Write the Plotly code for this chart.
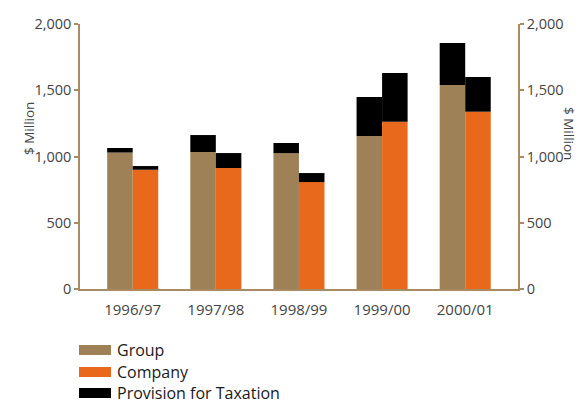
import plotly.graph_objects as go

# Fiscal years and values in $ million
years = ["1996/97", "1997/98", "1998/99", "1999/00", "2000/01"]
group_profit = [1030, 1034, 1026, 1155, 1540]
company_profit = [900, 913, 807, 1263, 1338]
group_tax = [34, 128, 76, 294, 317]
company_tax = [28, 113, 68, 367, 262]

legend_labels = ["Group", "Company", "Provision for Taxation"]

C_GROUP = "#9E8157"
C_COMPANY = "#E8691C"
C_TAX = "#000000"
C_AXIS = "#A88B63"
C_TEXT = "#444444"
FONT = "Open Sans, Lato, sans-serif"

# plot-area geometry in pixels, used to place titles and legend in paper units
PX_L, PX_R, PX_T, PX_B = 80, 518, 24, 289
PW, PH = PX_R - PX_L, PX_B - PX_T


def px_x(x):
    return (x - PX_L) / PW


def px_y(y):
    return 1 - (y - PX_T) / PH


fig = go.Figure()

fig.add_trace(go.Bar(x=years, y=group_profit, marker_color=C_GROUP,
                     offsetgroup="g", name=legend_labels[0]))
fig.add_trace(go.Bar(x=years, y=group_tax, base=group_profit, marker_color=C_TAX,
                     offsetgroup="g", name=legend_labels[2]))
fig.add_trace(go.Bar(x=years, y=company_profit, marker_color=C_COMPANY,
                     offsetgroup="c", name=legend_labels[1]))
fig.add_trace(go.Bar(x=years, y=company_tax, base=company_profit, marker_color=C_TAX,
                     offsetgroup="c", name=legend_labels[2]))
# empty trace so the right-hand axis is rendered
fig.add_trace(go.Scatter(x=[years[0]], y=[None], yaxis="y2", mode="markers",
                         showlegend=False, hoverinfo="skip"))

fig.update_traces(marker_line_width=0, selector=dict(type="bar"))

axis_common = dict(
    range=[0, 2000], tickvals=[0, 500, 1000, 1500, 2000],
    ticktext=["0", "500", "1,000", "1,500", "2,000"],
    showline=True, linecolor=C_AXIS, linewidth=1.5,
    ticks="outside", ticklen=4, tickcolor=C_AXIS, tickwidth=1.5,
    showgrid=False, zeroline=False,
    tickfont=dict(family=FONT, size=14.5, color=C_TEXT),
)

fig.update_layout(
    width=587, height=404,
    margin=dict(l=PX_L, r=587 - PX_R, t=PX_T, b=404 - PX_B),
    plot_bgcolor="white", paper_bgcolor="white",
    barmode="group", bargap=0.386, bargroupgap=0,
    showlegend=False,
    xaxis=dict(range=[-0.634, 4.635], showline=True, linecolor=C_AXIS, linewidth=1.5,
               ticks="", showgrid=False, ticklabelstandoff=6,
               tickfont=dict(family=FONT, size=15, color=C_TEXT)),
    yaxis=dict(**axis_common),
    yaxis2=dict(**axis_common, overlaying="y", side="right", anchor="x"),
)

# axis titles
fig.add_annotation(text="$ Million", x=px_x(18), y=px_y(129), xref="paper", yref="paper",
                   showarrow=False, textangle=-90,
                   font=dict(family=FONT, size=13.5, color=C_TEXT))
fig.add_annotation(text="$ Million", x=px_x(580), y=px_y(133), xref="paper", yref="paper",
                   showarrow=False, textangle=90,
                   font=dict(family=FONT, size=13.5, color=C_TEXT))

# legend drawn as swatches with labels
legend_colors = [C_GROUP, C_COMPANY, C_TAX]
legend_y = [350, 372, 393]
for label, color, yc in zip(legend_labels, legend_colors, legend_y):
    fig.add_shape(type="rect", xref="paper", yref="paper",
                  x0=px_x(79), x1=px_x(111),
                  y0=px_y(yc + 5), y1=px_y(yc - 5),
                  fillcolor=color, line_width=0)
    fig.add_annotation(text=label, xref="paper", yref="paper",
                       x=px_x(115), y=px_y(yc),
                       xanchor="left", yanchor="middle", showarrow=False,
                       font=dict(family=FONT, size=16, color="#1a1a1a"))

fig.write_html("out.html")
